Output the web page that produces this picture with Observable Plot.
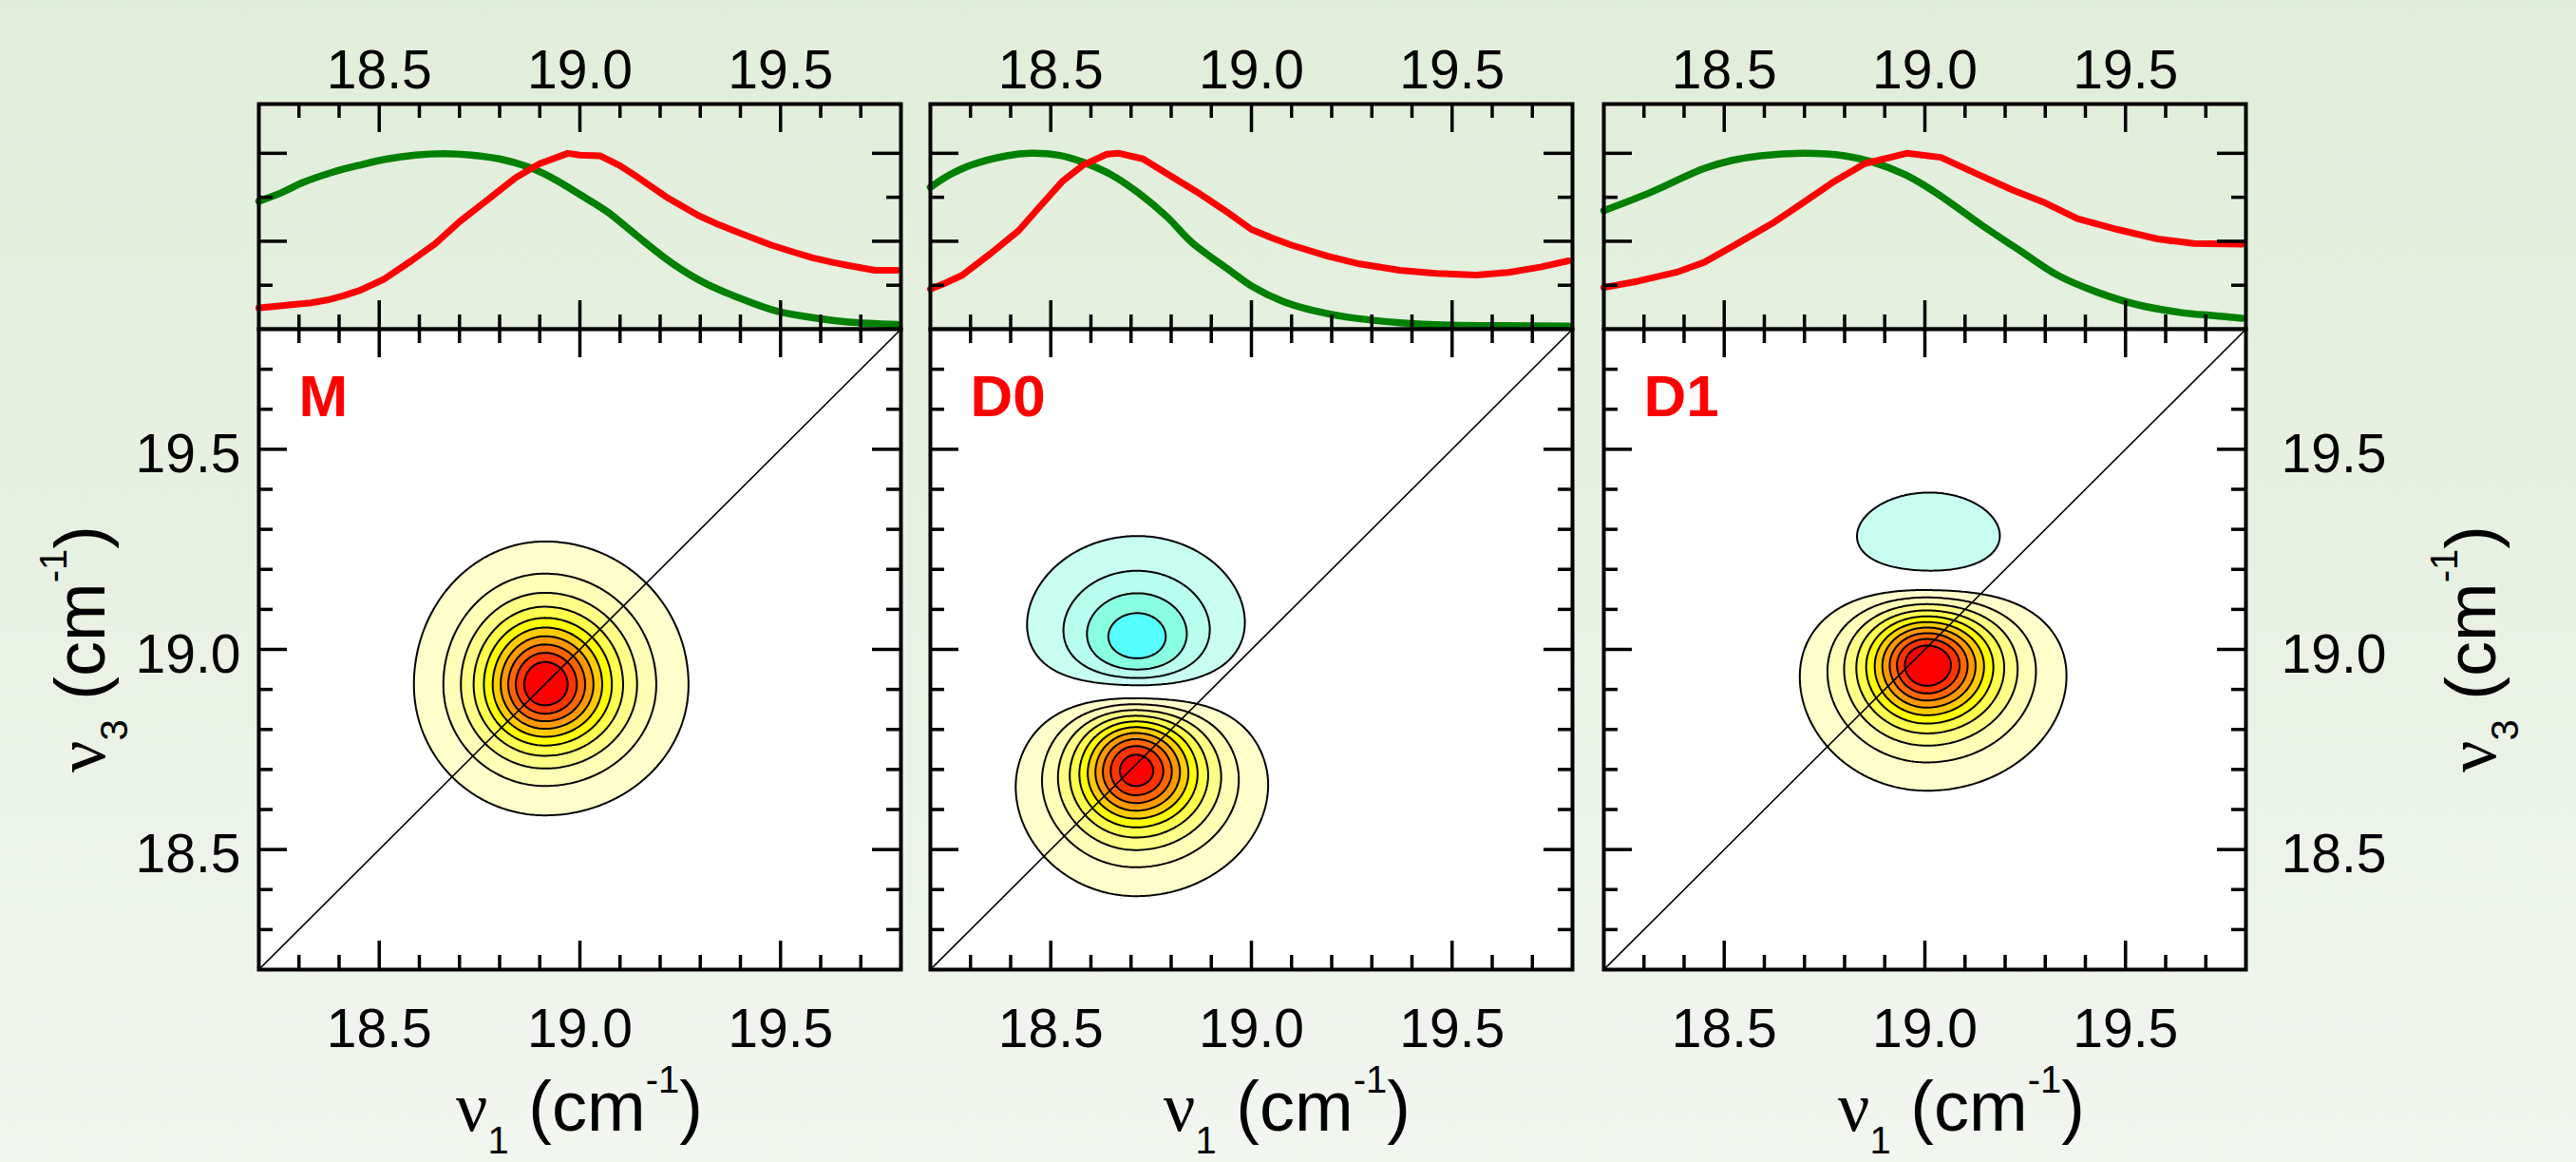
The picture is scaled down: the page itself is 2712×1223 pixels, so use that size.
<!DOCTYPE html>
<html><head><meta charset="utf-8">
<script src="https://cdn.jsdelivr.net/npm/d3@7"></script>
<script src="https://cdn.jsdelivr.net/npm/@observablehq/plot@0.6"></script>
<style>
html,body{margin:0;padding:0;}
body{width:2712px;height:1223px;overflow:hidden;background:linear-gradient(180deg,#e1eeda 0%,#e7f1e2 45%,#f1f6ef 100%);font-family:"Liberation Sans",Arial,sans-serif;}
#fig{position:relative;width:2712px;height:1223px;}
#fig svg{position:absolute;overflow:visible;}
</style></head><body><div id="fig"></div>
<script>
// ---------- data ----------
const panels = ["M", "D0", "D1"];
const axisDomain = [18.2, 19.8];
const topDomain = [0, 1.28];
const xTicksMajor = [18.5, 19.0, 19.5];
const xTicksMinor = [18.3, 18.4, 18.6, 18.7, 18.8, 18.9, 19.1, 19.2, 19.3, 19.4, 19.6, 19.7];
const topYMajor = [0.5, 1.0];
const topYMinor = [0.25, 0.75];
const diagonal = [18.2, 19.8];

// projections (top panels): [nu1, normalized intensity]
const greenM = [[18.20,0.727],[18.26,0.78],[18.31,0.834],[18.38,0.89],[18.45,0.932],[18.52,0.968],[18.59,0.99],[18.66,0.998],[18.73,0.99],[18.80,0.968],[18.87,0.923],[18.93,0.861],[19.01,0.752],[19.07,0.665],[19.14,0.535],[19.23,0.375],[19.31,0.264],[19.39,0.184],[19.49,0.103],[19.60,0.059],[19.67,0.041],[19.79,0.027]];
const redM = [[18.20,0.121],[18.24,0.13],[18.28,0.139],[18.33,0.15],[18.37,0.166],[18.41,0.19],[18.45,0.219],[18.51,0.282],[18.58,0.389],[18.64,0.487],[18.70,0.611],[18.765,0.727],[18.84,0.861],[18.90,0.941],[18.97,1.0],[19.00,0.99],[19.05,0.986],[19.10,0.93],[19.14,0.870],[19.22,0.745],[19.295,0.647],[19.34,0.60],[19.386,0.558],[19.477,0.478],[19.53,0.44],[19.58,0.406],[19.63,0.38],[19.67,0.362],[19.735,0.335],[19.79,0.335]];
const greenD0 = [[18.20,0.807],[18.25,0.88],[18.30,0.932],[18.39,0.986],[18.45,1.0],[18.52,0.989],[18.58,0.95],[18.65,0.879],[18.72,0.772],[18.79,0.638],[18.85,0.496],[18.94,0.344],[19.00,0.246],[19.08,0.157],[19.16,0.103],[19.24,0.068],[19.37,0.037],[19.50,0.023],[19.64,0.020],[19.79,0.018]];
const redD0 = [[18.20,0.228],[18.24,0.265],[18.28,0.308],[18.35,0.43],[18.42,0.56],[18.47,0.69],[18.53,0.843],[18.58,0.932],[18.64,0.995],[18.67,1.0],[18.73,0.968],[18.80,0.870],[18.87,0.772],[18.94,0.665],[19.00,0.567],[19.05,0.52],[19.10,0.478],[19.19,0.415],[19.27,0.371],[19.37,0.335],[19.46,0.317],[19.56,0.308],[19.64,0.323],[19.72,0.353],[19.79,0.389]];
const greenD1 = [[18.20,0.674],[18.32,0.781],[18.45,0.914],[18.52,0.96],[18.59,0.986],[18.70,1.0],[18.80,0.986],[18.87,0.950],[18.95,0.879],[19.03,0.772],[19.14,0.594],[19.24,0.442],[19.33,0.308],[19.43,0.210],[19.53,0.139],[19.64,0.094],[19.72,0.077],[19.79,0.062]];
const redD1 = [[18.20,0.237],[18.285,0.273],[18.38,0.323],[18.45,0.380],[18.54,0.496],[18.62,0.602],[18.69,0.709],[18.77,0.834],[18.85,0.941],[18.955,1.0],[19.04,0.977],[19.125,0.888],[19.22,0.790],[19.30,0.718],[19.38,0.629],[19.48,0.567],[19.58,0.513],[19.67,0.487],[19.79,0.483]];
const greenCurves = [greenM, greenD0, greenD1];
const redCurves = [redM, redD0, redD1];

// 2D spectra: peaks [nu1 centre, nu3 centre, amplitude, width nu1 low side, width nu1 high side, width nu3 low side, width nu3 high side]
const peaksM  = [[18.913, 18.912, 1.0, 0.105, 0.115, 0.105, 0.115]];
const peaksD0 = [[18.712, 18.705, 1.05, 0.105, 0.1145, 0.104, 0.115], [18.715, 19.0, -0.56, 0.13, 0.13, 0.119, 0.119]];
const peaksD1 = [[19.005, 18.965, 1.05, 0.105, 0.115, 0.101, 0.095], [19.01, 19.22, -0.28, 0.15, 0.15, 0.09, 0.11]];
const peakSets = [peaksM, peaksD0, peaksD1];

const contourLevels = [0.089, 0.178, 0.267, 0.356, 0.445, 0.534, 0.623, 0.712, 0.801, 0.89];
const positiveColors = ["#ffffcc", "#ffffb8", "#ffff88", "#ffff4d", "#ffff00", "#ffcc00", "#ff9900", "#ff6600", "#ff3300", "#ff0000"];
const negativeColors = ["#c8fff0", "#b8ffee", "#88ffe0", "#55ffff"];

// ---------- layout ----------
const FONT = '"Liberation Sans", Arial, sans-serif';
const frameLeft = [272, 979, 1688];
const W = 676, TOP0 = 109, MID = 346, BOT = 1020;
const HT = MID - TOP0, HM = BOT - MID;
const fmt = d3.format(".1f");
const fig = document.getElementById("fig");

function field(peaks) {
  return (x, y) => d3.sum(peaks, p => {
    const dx = x - p[0], dy = y - p[1];
    const u = dx / (dx < 0 ? p[3] : p[4]);
    const v = dy / (dy < 0 ? p[5] : p[6]);
    return p[2] / Math.cosh(Math.hypot(u, v));
  });
}

function xTicks(H, side) {
  const key = side === "bottom" ? "insetTop" : "insetBottom";
  return [
    Plot.tickX(xTicksMinor, {x: d => d, [key]: H - 15, stroke: "black", strokeWidth: 3.5}),
    Plot.tickX(xTicksMajor, {x: d => d, [key]: H - 30, stroke: "black", strokeWidth: 3.5})
  ];
}
function yTicks(minor, major, side) {
  const key = side === "left" ? "insetRight" : "insetLeft";
  return [
    Plot.tickY(minor, {y: d => d, [key]: W - 15, stroke: "black", strokeWidth: 3.5}),
    Plot.tickY(major, {y: d => d, [key]: W - 30, stroke: "black", strokeWidth: 3.5})
  ];
}

function addTitle(svg, x, y, sub, rotate) {
  const t = d3.select(svg).append("text")
    .attr("transform", `translate(${x},${y})${rotate ? " rotate(-90)" : ""}`)
    .attr("text-anchor", "middle").attr("font-size", 74).attr("fill", "black")
    .attr("font-family", FONT).style("white-space", "pre");
  t.append("tspan").attr("font-family", '"Liberation Serif", "DejaVu Serif", serif').text("ν");
  t.append("tspan").attr("font-size", 40).attr("dy", 24).text(sub);
  t.append("tspan").attr("dy", -24).text(" (cm");
  t.append("tspan").attr("font-size", 40).attr("dy", -40).text("-1");
  t.append("tspan").attr("dy", 40).text(")");
}

const titleShift = [0, 38, 39];

panels.forEach((name, i) => {
  // top projection panel
  const top = Plot.plot({
    width: W, height: MID, marginTop: TOP0, marginBottom: 0, marginLeft: 0, marginRight: 0,
    x: {domain: axisDomain}, y: {domain: topDomain, axis: null},
    style: {background: "transparent", fontFamily: FONT, overflow: "visible", color: "black"},
    marks: [
      Plot.line(greenCurves[i], {x: d => d[0], y: d => d[1], stroke: "#008000", strokeWidth: 7.5, curve: "catmull-rom"}),
      Plot.line(redCurves[i], {x: d => d[0], y: d => d[1], stroke: "#ff0000", strokeWidth: 7}),
      ...xTicks(HT, "top"), ...xTicks(HT, "bottom"),
      ...yTicks(topYMinor, topYMajor, "left"), ...yTicks(topYMinor, topYMajor, "right"),
      Plot.frame({stroke: "black", strokeWidth: 4}),
      Plot.axisX(xTicksMajor, {anchor: "top", tickSize: 0, tickPadding: 17, fontSize: 57, tickFormat: fmt, label: null})
    ]
  });
  top.style.left = frameLeft[i] + "px";
  top.style.top = "0px";
  fig.appendChild(top);

  // 2D spectrum panel
  const ml = i === 0 ? 272 : 0, mr = i === 2 ? 349 : 0;
  const f = field(peakSets[i]);
  const g = (x, y) => -f(x, y);
  const box = {x1: axisDomain[0], x2: axisDomain[1], y1: axisDomain[0], y2: axisDomain[1], pixelSize: 2};
  const marks = [
    Plot.frame({fill: "white", stroke: null}),
    ...contourLevels.map((t, k) => Plot.contour(null, {...box, value: f, thresholds: [t], fill: positiveColors[k], stroke: "black", strokeWidth: 2})),
    ...negativeColors.map((c, k) => Plot.contour(null, {...box, value: g, thresholds: [contourLevels[k]], fill: c, stroke: "black", strokeWidth: 2})),
    Plot.line(diagonal, {x: d => d, y: d => d, stroke: "black", strokeWidth: 1.6}),
    ...xTicks(HM, "top"), ...xTicks(HM, "bottom"),
    ...yTicks(xTicksMinor, xTicksMajor, "left"), ...yTicks(xTicksMinor, xTicksMajor, "right"),
    Plot.frame({stroke: "black", strokeWidth: 4}),
    Plot.axisX(xTicksMajor, {anchor: "bottom", tickSize: 0, tickPadding: 41, fontSize: 57, tickFormat: fmt, label: null}),
    Plot.text([name], {text: d => d, frameAnchor: "top-left", dx: 42, dy: 91, lineAnchor: "bottom", textAnchor: "start", fill: "#ff0000", fontWeight: "bold", fontSize: 62})
  ];
  if (i === 0) marks.push(Plot.axisY(xTicksMajor, {anchor: "left", tickSize: 0, tickPadding: 19, fontSize: 57, dy: 6, tickFormat: fmt, label: null}));
  if (i === 2) marks.push(Plot.axisY(xTicksMajor, {anchor: "right", tickSize: 0, tickPadding: 37, fontSize: 57, dy: 6, tickFormat: fmt, label: null}));
  const main = Plot.plot({
    width: W + ml + mr, height: HM + 203, marginTop: 0, marginBottom: 203, marginLeft: ml, marginRight: mr,
    x: {domain: axisDomain}, y: {domain: axisDomain, axis: i === 1 ? null : undefined},
    style: {background: "transparent", fontFamily: FONT, overflow: "visible", color: "black"},
    marks
  });
  main.style.left = (frameLeft[i] - ml) + "px";
  main.style.top = MID + "px";
  fig.appendChild(main);
  addTitle(main, ml + W / 2 + titleShift[i], 1190 - MID, "1", false);
  if (i === 0) addTitle(main, 110, (MID + BOT) / 2 - MID, "3", true);
  if (i === 2) addTitle(main, 2627 - frameLeft[i], (MID + BOT) / 2 - MID, "3", true);
});
</script></body></html>
